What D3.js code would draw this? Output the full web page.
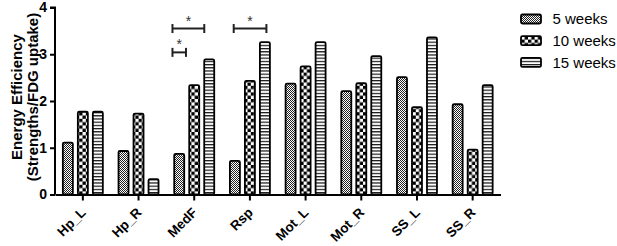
<!DOCTYPE html>
<html><head><meta charset="utf-8">
<script src="https://cdn.jsdelivr.net/npm/d3@7"></script>
<style>body{margin:0;background:#fff}svg{display:block}</style>
</head><body>
<svg id="c" width="617" height="246"></svg>
<script>
const categories = ["Hp_L","Hp_R","MedF","Rsp","Mot_L","Mot_R","SS_L","SS_R"];
const seriesNames = ["5 weeks","10 weeks","15 weeks"];
const weeks5  = [1.11, 0.93, 0.87, 0.72, 2.37, 2.21, 2.51, 1.93];
const weeks10 = [1.77, 1.73, 2.34, 2.43, 2.74, 2.38, 1.87, 0.96];
const weeks15 = [1.77, 0.33, 2.89, 3.26, 3.26, 2.96, 3.36, 2.34];
const yTicks = [0,1,2,3,4];
// significance brackets: category, start/end position in bar-index units, level, label
const brackets = [
  {cat:"MedF", from:-0.45, to:0.45, level:3.04, label:"*"},
  {cat:"MedF", from:-0.45, to:1.67, level:3.55, label:"*"},
  {cat:"Rsp",  from:-0.08, to:2.1,  level:3.55, label:"*"}
];

const series = [weeks5, weeks10, weeks15];
const FONT = "Liberation Sans, Arial, sans-serif";
const svg = d3.select("#c");
const defs = svg.append("defs");

// patterns
const p1 = defs.append("pattern").attr("id","pat0").attr("patternUnits","userSpaceOnUse").attr("width",2).attr("height",2);
p1.append("rect").attr("width",2).attr("height",2).attr("fill","#fff");
p1.append("rect").attr("width",1).attr("height",1).attr("fill","#222");
p1.append("rect").attr("x",1).attr("y",1).attr("width",1).attr("height",1).attr("fill","#222");

const p2 = defs.append("pattern").attr("id","pat1").attr("patternUnits","userSpaceOnUse").attr("width",6.6).attr("height",6.6);
p2.append("rect").attr("width",6.6).attr("height",6.6).attr("fill","#fff");
p2.append("rect").attr("width",3.3).attr("height",3.3).attr("fill","#000");
p2.append("rect").attr("x",3.3).attr("y",3.3).attr("width",3.3).attr("height",3.3).attr("fill","#000");

const p3 = defs.append("pattern").attr("id","pat2").attr("patternUnits","userSpaceOnUse").attr("width",4).attr("height",3.2);
p3.append("rect").attr("width",4).attr("height",3.2).attr("fill","#fff");
p3.append("rect").attr("y",0).attr("width",4).attr("height",1.2).attr("fill","#111");

const x0 = 55, x1 = 500.5;
const y = d3.scaleLinear().domain([0,4]).range([194.5, 7.5]);
const x = d3.scaleBand().domain(categories).range([x0, x1]).padding(0);
const barW = 10, pitch = 15;
const xs = d3.scaleLinear().domain([0,2]).range([-pitch, pitch]);

// bars
series.forEach((vals, si) => {
  svg.append("g").selectAll("rect").data(vals).join("rect")
    .attr("x", (d,i) => x(categories[i]) + x.bandwidth()/2 + xs(si) - barW/2)
    .attr("y", d => y(d))
    .attr("width", barW)
    .attr("height", d => y(0) - y(d))
    .attr("rx", 1.5)
    .attr("fill", `url(#pat${si})`)
    .attr("stroke", "#000")
    .attr("stroke-width", 1.8);
});

// y axis
const yAxis = svg.append("g").attr("transform", `translate(${x0},0)`)
  .call(d3.axisLeft(y).tickValues(yTicks).tickSize(5).tickPadding(3).tickFormat(d3.format("d")));
yAxis.select(".domain").attr("stroke","#000").attr("stroke-width",2).attr("d", `M-5,${y(4)}H0V${y(0)}`);
yAxis.selectAll(".tick line").attr("stroke","#000").attr("stroke-width",2);
yAxis.selectAll(".tick text").attr("font-family",FONT).attr("font-weight","bold").attr("font-size","14px").attr("fill","#000");

// x axis
const xAxis = svg.append("g").attr("transform", `translate(0,${y(0)})`)
  .call(d3.axisBottom(x).tickSize(6).tickSizeOuter(0).tickFormat(""));
xAxis.select(".domain").attr("stroke","#000").attr("stroke-width",2);
xAxis.selectAll(".tick line").attr("stroke","#000").attr("stroke-width",2);
xAxis.selectAll(".tick text").remove();

const xl = svg.append("g").selectAll("g").data(categories).join("g")
  .attr("transform", d => `translate(${x(d) + x.bandwidth()/2 + 0.5},210)`);
xl.append("g").attr("transform","rotate(-45)")
  .append("text")
  .attr("text-anchor","end").attr("dy","0.35em")
  .attr("font-family",FONT).attr("font-weight","bold").attr("font-size","13.5px").attr("fill","#000")
  .text(d => d);

// y label
const yl = svg.append("text").attr("transform","translate(0,97) rotate(-90)")
  .attr("text-anchor","middle").attr("font-family",FONT)
  .attr("font-weight","bold").attr("font-size","15px").attr("fill","#000");
yl.append("tspan").attr("x",0).attr("y",22).text("Energy Efficiency");
yl.append("tspan").attr("x",0).attr("y",38).text("(Strengths/FDG uptake)");

// brackets
brackets.forEach(b => {
  const cx = x(b.cat) + x.bandwidth()/2;
  const bx1 = cx + xs(b.from), bx2 = cx + xs(b.to), by = y(b.level);
  const g = svg.append("g").attr("stroke","#222").attr("stroke-width",2);
  g.append("line").attr("x1",bx1).attr("x2",bx2).attr("y1",by).attr("y2",by);
  g.append("line").attr("x1",bx1).attr("x2",bx1).attr("y1",by-4.5).attr("y2",by+4.5);
  g.append("line").attr("x1",bx2).attr("x2",bx2).attr("y1",by-4.5).attr("y2",by+4.5);
  svg.append("text").attr("x",(bx1+bx2)/2).attr("y",by-3).attr("text-anchor","middle")
    .attr("font-family",FONT).attr("font-size","14px").attr("fill","#333").text(b.label);
});

// legend
const lg = svg.append("g");
seriesNames.forEach((n, i) => {
  const ly = 19 + i*21.7;
  lg.append("rect").attr("x",521).attr("y",ly-4.5).attr("width",20).attr("height",9).attr("rx",1.5)
    .attr("fill",`url(#pat${i})`).attr("stroke","#000").attr("stroke-width",1.8);
  lg.append("text").attr("x",552.5).attr("y",ly).attr("dy","0.36em")
    .attr("font-family",FONT).attr("font-size","15px").attr("fill","#000").text(n);
});
</script>
</body></html>
